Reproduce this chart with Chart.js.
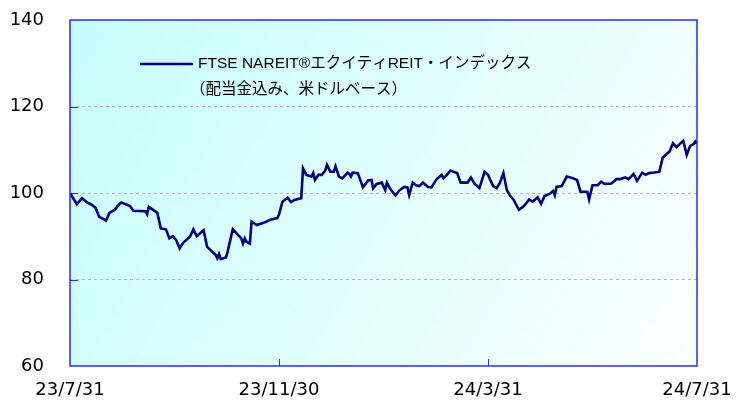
<!DOCTYPE html>
<html>
<head>
<meta charset="utf-8">
<script src="https://cdn.jsdelivr.net/npm/chart.js@4/dist/chart.umd.min.js"></script>
<style>
  html, body { margin: 0; padding: 0; background: #ffffff; }
  #wrap { width: 736px; height: 405px; }
</style>
</head>
<body>
<div id="wrap"><canvas id="chart1" width="736" height="405"></canvas></div>
<script>
// days after 2023/7/31, and index level
var days = [0,4,7,10,13,15,17,20,21,23,26,29,30,35,37,44,45,46,51,53,
  56,58,60,62,64,66,70,72,74,78,80,83,85,86,87,88,91,92,95,98,
  100,101,102,103,105,106,109,113,117,121,122,124,127,129,131,135,136,138,141,142,
  143,145,147,149,150,152,154,155,157,159,162,163,164,165,168,171,174,176,177,179,
  182,184,185,187,190,192,195,197,198,200,202,204,206,209,211,214,217,218,220,222,
  226,228,232,234,236,239,242,244,247,249,251,253,255,257,259,262,265,268,270,273,
  275,277,280,282,283,284,287,290,293,296,298,302,303,305,308,310,312,316,319,321,
  324,326,329,331,334,336,338,340,344,346,350,352,354,358,360,362,364,365,366];
var values = [100.0,97.4,98.8,97.8,97.2,96.5,94.5,93.9,93.6,95.4,96.1,97.5,97.8,97.0,95.9,95.8,95.1,96.8,95.4,91.8,
  91.6,89.5,90.0,89.1,87.2,88.5,89.9,91.6,90.0,91.4,87.6,86.4,85.7,84.9,85.9,84.7,85.1,86.4,91.6,90.3,
  89.5,88.3,89.5,88.7,88.3,93.4,92.6,93.1,93.8,94.2,95.0,98.0,98.9,97.9,98.4,98.8,105.7,104.2,103.8,104.6,
  103.0,104.2,104.2,105.2,106.5,104.9,104.9,106.2,103.8,103.4,104.7,104.4,103.8,104.7,104.6,101.3,102.9,103.0,101.1,102.1,
  102.4,100.7,102.4,100.9,99.4,100.5,101.4,101.3,99.5,102.4,101.8,101.6,102.4,101.4,101.3,103.2,104.2,103.4,104.2,105.2,
  104.6,102.4,102.4,103.6,102.2,101.1,104.9,104.2,101.6,101.1,102.4,104.6,100.7,99.3,98.4,96.1,97.0,98.5,98.0,99.0,
  97.5,99.3,99.8,100.5,99.5,101.4,101.6,103.8,103.5,103.0,100.3,100.3,98.5,101.8,101.8,102.6,102.1,102.2,103.2,103.2,
  103.6,103.2,104.4,102.8,104.7,104.2,104.6,104.7,104.9,108.2,109.6,111.5,110.6,112.1,108.8,110.9,111.3,111.9,111.4];

var tickDays = [0, 122, 244, 366];
var tickLabels = ["23/7/31", "23/11/30", "24/3/31", "24/7/31"];
var seriesName = ["FTSE NAREIT®エクイティREIT・インデックス", "（配当金込み、米ドルベース）"];

var points = days.map(function (d, i) { return { x: d, y: values[i] }; });

var axisBlue = '#2a2aff';

// gradient behind the plot area
var plotBackground = {
  id: 'plotBackground',
  beforeDraw: function (chart) {
    var a = chart.chartArea, c = chart.ctx;
    var g = c.createLinearGradient(a.left, a.top, a.right, a.bottom);
    g.addColorStop(0, '#c6fcfc');
    g.addColorStop(1, '#fbffff');
    c.save();
    c.fillStyle = g;
    c.fillRect(a.left, a.top, a.right - a.left, a.bottom - a.top);
    c.restore();
  }
};

// frame, inward ticks and the two-line legend
var frameAndLegend = {
  id: 'frameAndLegend',
  afterDraw: function (chart) {
    var a = chart.chartArea, c = chart.ctx;
    var xs = chart.scales.x, ys = chart.scales.y;
    c.save();
    c.strokeStyle = axisBlue;
    c.lineWidth = 1.5;
    c.strokeRect(a.left, a.top, a.right - a.left, a.bottom - a.top);
    c.lineWidth = 1;
    c.beginPath();
    [80, 100, 120].forEach(function (v) {
      var y = Math.round(ys.getPixelForValue(v)) + 0.5;
      c.moveTo(a.left, y); c.lineTo(a.left + 8, y);
    });
    [122, 244].forEach(function (d) {
      var x = Math.round(xs.getPixelForValue(d)) + 0.5;
      c.moveTo(x, a.bottom); c.lineTo(x, a.bottom - 7);
    });
    c.stroke();

    var lx = a.left + 70, ly = a.top + 44;
    c.strokeStyle = '#000080';
    c.lineWidth = 2.5;
    c.beginPath();
    c.moveTo(lx, ly); c.lineTo(lx + 53, ly);
    c.stroke();
    c.fillStyle = '#000000';
    c.font = '15.5px "Liberation Sans", "Noto Sans CJK JP", sans-serif';
    c.textBaseline = 'middle';
    c.fillText(seriesName[0], lx + 58, ly);
    c.fillText(seriesName[1], lx + 50, ly + 26);
    c.restore();
  }
};

var ctx = document.getElementById("chart1").getContext('2d');
var chart1 = new Chart(ctx, {
  type: 'line',
  data: {
    datasets: [{
      label: seriesName.join(''),
      data: points,
      borderColor: '#000080',
      borderWidth: 2.6,
      pointRadius: 0,
      tension: 0,
      fill: false
    }]
  },
  options: {
    responsive: false,
    animation: false,
    layout: { padding: { left: 9, right: 39, top: 20, bottom: 3 } },
    plugins: {
      legend: { display: false },
      tooltip: { enabled: false }
    },
    scales: {
      x: {
        type: 'linear',
        min: 0,
        max: 366,
        afterBuildTicks: function (scale) {
          scale.ticks = tickDays.map(function (d) { return { value: d }; });
        },
        afterFit: function (scale) {
          scale.height = 36;
          scale.paddingLeft = 0;
          scale.paddingRight = 0;
        },
        ticks: {
          autoSkip: false,
          maxRotation: 0,
          padding: 14,
          color: '#000000',
          font: { family: '"DejaVu Sans", sans-serif', size: 18 },
          callback: function (v) {
            var i = tickDays.indexOf(v);
            return i >= 0 ? tickLabels[i] : '';
          }
        },
        grid: { display: false, drawTicks: false },
        border: { display: false }
      },
      y: {
        min: 60,
        max: 140,
        afterFit: function (scale) {
          scale.width = 61;
          scale.paddingTop = 0;
          scale.paddingBottom = 0;
        },
        ticks: {
          stepSize: 20,
          padding: 26,
          color: '#000000',
          font: { family: '"DejaVu Sans", sans-serif', size: 18 }
        },
        grid: {
          drawTicks: false,
          color: function (c) {
            return (c.tick && (c.tick.value === 60 || c.tick.value === 140)) ? 'rgba(0,0,0,0)' : '#b8b8b8';
          },
          lineWidth: 1
        },
        border: { display: false, dash: [3, 3] }
      }
    }
  },
  plugins: [plotBackground, frameAndLegend]
});
</script>
</body>
</html>
